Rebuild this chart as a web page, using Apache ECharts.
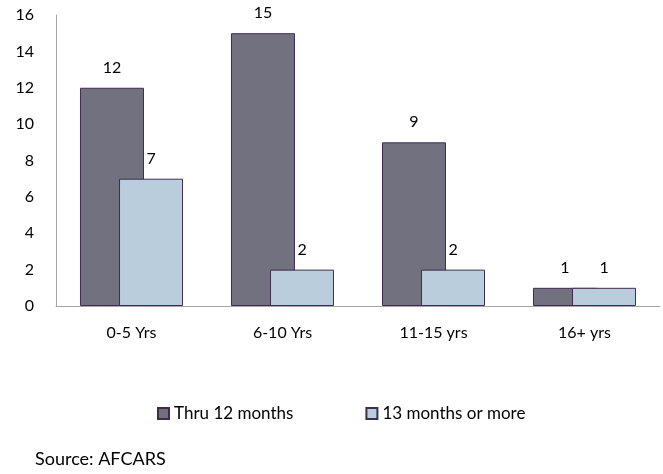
<!DOCTYPE html>
<html>
<head>
<meta charset="utf-8">
<script src="https://cdn.jsdelivr.net/npm/echarts@6/dist/echarts.min.js"></script>
<style>
  html, body { margin: 0; padding: 0; background: #fff; }
  #chart { width: 663px; height: 474px; }
</style>
</head>
<body>
<div id="chart"></div>
<script>
  const categories = ['0-5 Yrs', '6-10 Yrs', '11-15 yrs', '16+ yrs'];
  const thru12 = [12, 15, 9, 1];
  const over13 = [7, 2, 2, 1];
  const seriesNames = ['Thru 12 months', '13 months or more'];

  const font = 'Lato, "Open Sans", sans-serif';
  const chart = echarts.init(document.getElementById('chart'), null, { renderer: 'canvas' });

  const label = {
    show: true, position: 'top', distance: 12,
    fontSize: 16, fontFamily: font, color: '#000'
  };

  chart.setOption({
    animation: false,
    grid: { left: 56, right: 3, top: 15, bottom: 168, containLabel: false },
    legend: {
      left: 152, top: 400,
      itemWidth: 11, itemHeight: 11, itemGap: 72,
      icon: 'rect',
      textStyle: { fontSize: 17, fontFamily: font, color: '#000' },
      data: seriesNames
    },
    xAxis: {
      type: 'category', data: categories,
      axisLine: { lineStyle: { color: '#a6a6a6', width: 1 } },
      axisTick: { show: false },
      axisLabel: { margin: 19, fontSize: 16, fontFamily: font, color: '#000' }
    },
    yAxis: {
      type: 'value', min: 0, max: 16, interval: 2,
      axisLine: { show: true, lineStyle: { color: '#a6a6a6', width: 1 } },
      axisTick: { show: false },
      splitLine: { show: false },
      axisLabel: { margin: 22, fontSize: 16, fontFamily: font, color: '#000' }
    },
    series: [
      {
        name: seriesNames[0], type: 'bar', data: thru12,
        barWidth: 64, barGap: '-39%',
        itemStyle: { color: '#72717f', borderColor: '#3f2d4f', borderWidth: 1 },
        label: label
      },
      {
        name: seriesNames[1], type: 'bar', data: over13,
        barWidth: 64,
        itemStyle: { color: '#b9cddc', borderColor: '#3f2d4f', borderWidth: 1 },
        label: label
      }
    ],
    graphic: [{
      type: 'text', left: 35, top: 450,
      style: { text: 'Source: AFCARS', fontSize: 18, fontFamily: font, fill: '#000' }
    }]
  });
</script>
</body>
</html>
